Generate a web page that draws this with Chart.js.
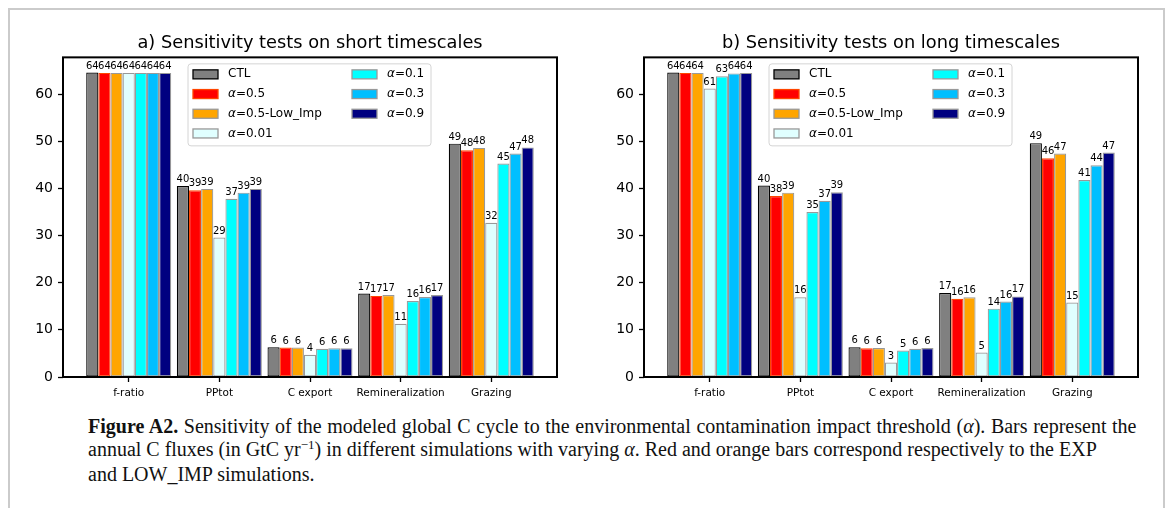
<!DOCTYPE html>
<html>
<head>
<meta charset="utf-8">
<script src="https://cdn.jsdelivr.net/npm/chart.js@4.4.1/dist/chart.umd.min.js"></script>
<style>
body { margin: 0; background: #fff; width: 1171px; height: 508px; overflow: hidden; position: relative; }
#frame { position: absolute; left: 8px; top: 8px; width: 1153px; height: 560px; border: 2px solid #cbcbcb; }
.panel { position: absolute; top: 0; }
#caption { position: absolute; left: 88px; top: 415px; font-family: "Liberation Serif", serif; font-size: 20px; line-height: 23px; color: #111; white-space: nowrap; }
#caption sup { font-size: 13px; vertical-align: 0; position: relative; top: -7px; }
#caption .l1 { word-spacing: 0.6px; }
</style>
</head>
<body>
<div id="frame"></div>
<canvas id="shortChart" class="panel" width="590" height="407" style="left:0px"></canvas>
<canvas id="longChart" class="panel" width="591" height="407" style="left:580px"></canvas>
<div id="caption">
<div class="l1"><b>Figure A2.</b> Sensitivity of the modeled global C cycle to the environmental contamination impact threshold (<i>α</i>). Bars represent the</div>
<div>annual C fluxes (in GtC yr<sup>−1</sup>) in different simulations with varying <i>α</i>. Red and orange bars correspond respectively to the EXP</div>
<div>and LOW_IMP simulations.</div>
</div>
<script>
const categories = ["f-ratio", "PPtot", "C export", "Remineralization", "Grazing"];
const seriesLabels = ["CTL", "α=0.5", "α=0.5-Low_Imp", "α=0.01", "α=0.1", "α=0.3", "α=0.9"];
const yTicks = [0, 10, 20, 30, 40, 50, 60];

// a) short timescales, one array per simulation (f-ratio, PPtot, C export, Remin, Grazing)
const shortCTL   = [64.6, 40.5, 6.3, 17.7, 49.5];
const shortA05   = [64.5, 39.6, 6.25, 17.2, 48.1];
const shortLow   = [64.5, 39.9, 6.25, 17.4, 48.6];
const shortA001  = [64.5, 29.6, 4.7, 11.3, 32.7];
const shortA01   = [64.5, 37.8, 6.0, 16.1, 45.3];
const shortA03   = [64.5, 39.1, 6.1, 16.95, 47.4];
const shortA09   = [64.5, 39.9, 6.1, 17.4, 48.7];

// b) long timescales
const longCTL   = [64.6, 40.6, 6.3, 17.8, 49.6];
const longA05   = [64.5, 38.4, 6.1, 16.6, 46.4];
const longLow   = [64.5, 39.1, 6.15, 16.9, 47.4];
const longA001  = [61.2, 16.9, 3.05, 5.2, 15.8];
const longA01   = [63.8, 35.0, 5.6, 14.5, 41.8];
const longA03   = [64.4, 37.4, 6.0, 16.0, 44.9];
const longA09   = [64.5, 39.2, 6.15, 17.1, 47.6];

const fills = ["#808080", "#ff0000", "#ffa500", "#e0ffff", "#00ffff", "#00bfff", "#000080"];
const edges = ["#000000", "#ff4500", "#999999", "#999999", "#999999", "#999999", "#999999"];

const FONT = '"DejaVu Sans", sans-serif';

// black box round the plot area
const spines = {
    id: "spines",
    afterDatasetsDraw(chart) {
        const a = chart.chartArea, ctx = chart.ctx;
        ctx.save();
        ctx.strokeStyle = "#000";
        ctx.lineWidth = 2;
        ctx.strokeRect(a.left, a.top, a.right - a.left, a.bottom - a.top);
        ctx.restore();
    }
};

// integer labels above bars
const barValues = {
    id: "barValues",
    afterDatasetsDraw(chart) {
        const ctx = chart.ctx;
        ctx.save();
        ctx.font = "10px " + FONT;
        ctx.fillStyle = "#000";
        ctx.textAlign = "center";
        ctx.textBaseline = "bottom";
        chart.data.datasets.forEach((ds, i) => {
            chart.getDatasetMeta(i).data.forEach((bar, j) => {
                ctx.fillText(String(Math.trunc(ds.data[j].y)), bar.x, bar.y - 1.5);
            });
        });
        ctx.restore();
    }
};

// two-column legend inside the axes, like matplotlib ncol=2
const innerLegend = {
    id: "innerLegend",
    afterDraw(chart) {
        const ctx = chart.ctx, a = chart.chartArea;
        const x0 = a.left + 125, y0 = a.top + 6.5, w = 243, h = 82;
        ctx.save();
        ctx.fillStyle = "rgba(255,255,255,0.8)";
        ctx.strokeStyle = "#d4d4d4";
        ctx.lineWidth = 1;
        ctx.beginPath();
        ctx.roundRect(x0, y0, w, h, 3);
        ctx.fill();
        ctx.stroke();
        chart.data.datasets.forEach((ds, i) => {
            const col = i < 4 ? 0 : 1, row = i < 4 ? i : i - 4;
            const sx = x0 + (col ? 164 : 5), sy = y0 + 10.5 + row * 19.7;
            ctx.fillStyle = ds.backgroundColor;
            ctx.fillRect(sx, sy - 4.5, 25, 9);
            ctx.strokeStyle = ds.borderColor;
            ctx.lineWidth = 1.3;
            ctx.strokeRect(sx, sy - 4.5, 25, 9);
            let tx = sx + 35, txt = ds.label;
            ctx.fillStyle = "#000";
            ctx.textBaseline = "middle";
            ctx.textAlign = "left";
            if (txt.startsWith("α")) {
                ctx.font = "italic 12px " + FONT;
                ctx.fillText("α", tx, sy);
                tx += ctx.measureText("α").width;
                txt = txt.slice(1);
            }
            ctx.font = "12px " + FONT;
            ctx.fillText(txt, tx, sy);
        });
        ctx.restore();
    }
};

function makeChart(id, title, series, yWidth, padRight) {
    return new Chart(document.getElementById(id), {
        type: "bar",
        data: {
            datasets: series.map((vals, i) => ({
                label: seriesLabels[i],
                data: vals.map((v, j) => ({ x: j, y: v })),
                backgroundColor: fills[i],
                borderColor: edges[i],
                borderWidth: 1.2,
                borderSkipped: false,
                categoryPercentage: 0.938,
                barPercentage: 1.0
            }))
        },
        options: {
            responsive: false,
            animation: false,
            events: [],
            layout: { padding: { left: 0, right: padRight, top: 0, bottom: 0 } },
            plugins: {
                legend: { display: false },
                tooltip: { enabled: false },
                title: {
                    display: true,
                    text: title,
                    fullSize: false,
                    color: "#000",
                    font: { family: FONT, size: 17.8, weight: "normal" },
                    padding: { top: 33, bottom: 3 }
                }
            },
            scales: {
                x: {
                    type: "linear",
                    min: -0.725,
                    max: 4.725,
                    offset: false,
                    afterBuildTicks: s => { s.ticks = categories.map((c, i) => ({ value: i })); },
                    afterFit: s => { s.height = 30; },
                    ticks: {
                        callback: v => categories[v],
                        color: "#000",
                        font: { family: FONT, size: 10.5 },
                        padding: 5,
                        maxRotation: 0,
                        autoSkip: false
                    },
                    grid: { offset: false, drawOnChartArea: false, drawTicks: true, tickLength: 5, tickColor: "#000", tickWidth: 1.3 },
                    border: { display: false }
                },
                y: {
                    min: 0,
                    max: 67.8,
                    afterBuildTicks: s => { s.ticks = yTicks.map(v => ({ value: v })); },
                    afterFit: s => { s.width = yWidth; },
                    ticks: {
                        color: "#000",
                        font: { family: FONT, size: 14 },
                        padding: 5
                    },
                    grid: { drawOnChartArea: false, drawTicks: true, tickLength: 5, tickColor: "#000", tickWidth: 1.3 },
                    border: { display: false }
                }
            }
        },
        plugins: [barValues, spines, innerLegend]
    });
}

makeChart("shortChart", "a) Sensitivity tests on short timescales",
    [shortCTL, shortA05, shortLow, shortA001, shortA01, shortA03, shortA09], 63, 33);
makeChart("longChart", "b) Sensitivity tests on long timescales",
    [longCTL, longA05, longLow, longA001, longA01, longA03, longA09], 64, 33);
</script>
</body>
</html>
